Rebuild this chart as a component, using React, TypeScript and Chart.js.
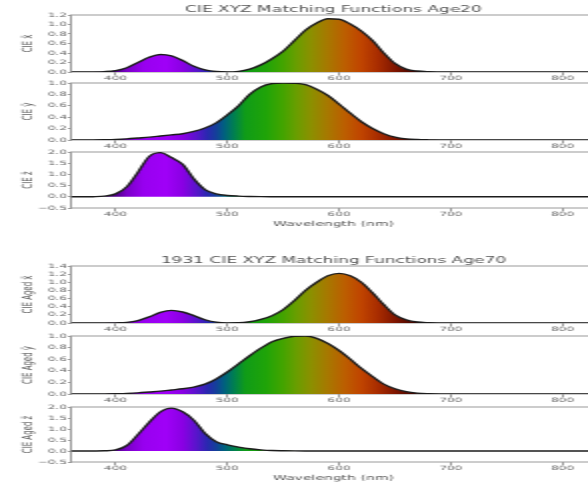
import React, { useEffect, useRef } from 'react';
import { Chart, registerables } from 'chart.js';

Chart.register(...registerables);
Chart.defaults.font.family = "'DejaVu Sans', sans-serif";

// ---------- data ----------
const wavelengths = [360, 370, 380, 390, 400, 410, 420, 430, 440, 450, 460, 470, 480, 490, 500, 510, 520, 530, 540, 550, 560, 570, 580, 590, 600, 610, 620, 630, 640, 650, 660, 670, 680, 690, 700, 750, 800, 830];

const xBarAge20 = [0, 0, 0.002, 0.008, 0.03, 0.09, 0.2, 0.31, 0.37, 0.34, 0.24, 0.12, 0.045, 0.01, 0.0, 0.012, 0.06, 0.15, 0.28, 0.44, 0.66, 0.88, 1.03, 1.12, 1.11, 1.01, 0.86, 0.66, 0.4, 0.18, 0.06, 0.02, 0.006, 0.002, 0, 0, 0, 0];
const yBarAge20 = [0, 0, 0.002, 0.005, 0.01, 0.02, 0.035, 0.05, 0.07, 0.09, 0.11, 0.15, 0.21, 0.3, 0.44, 0.6, 0.8, 0.93, 0.99, 1.0, 0.995, 0.97, 0.89, 0.78, 0.63, 0.47, 0.32, 0.2, 0.11, 0.05, 0.02, 0.008, 0.003, 0.001, 0, 0, 0, 0];
const zBarAge20 = [0, 0, 0.005, 0.03, 0.13, 0.45, 1.1, 1.8, 1.97, 1.75, 1.45, 0.8, 0.32, 0.13, 0.06, 0.03, 0.015, 0.006, 0.002, 0, 0, 0, 0, 0, 0, 0, 0, 0, 0, 0, 0, 0, 0, 0, 0, 0, 0, 0];

const xBarAge70 = [0, 0, 0, 0.001, 0.004, 0.015, 0.06, 0.15, 0.26, 0.31, 0.27, 0.18, 0.08, 0.02, 0.003, 0.005, 0.03, 0.09, 0.18, 0.33, 0.55, 0.8, 1.0, 1.16, 1.22, 1.16, 1.0, 0.74, 0.45, 0.2, 0.08, 0.025, 0.008, 0.002, 0, 0, 0, 0];
const yBarAge70 = [0, 0, 0, 0.002, 0.005, 0.01, 0.02, 0.035, 0.05, 0.07, 0.09, 0.12, 0.17, 0.26, 0.38, 0.52, 0.66, 0.79, 0.9, 0.96, 0.995, 1.0, 0.96, 0.87, 0.75, 0.6, 0.44, 0.3, 0.17, 0.09, 0.04, 0.015, 0.005, 0.001, 0, 0, 0, 0];
const zBarAge70 = [0, 0, 0.002, 0.01, 0.05, 0.25, 0.75, 1.3, 1.78, 1.95, 1.78, 1.4, 0.8, 0.42, 0.28, 0.18, 0.1, 0.05, 0.02, 0.01, 0.004, 0.001, 0, 0, 0, 0, 0, 0, 0, 0, 0, 0, 0, 0, 0, 0, 0, 0];

const xTicks = [400, 500, 600, 700, 800];
const yTicksX20 = [0, 0.2, 0.4, 0.6, 0.8, 1.0, 1.2];
const yTicksY = [0, 0.2, 0.4, 0.6, 0.8, 1.0];
const yTicksZ = [-0.5, 0, 0.5, 1.0, 1.5, 2.0];
const yTicksX70 = [0, 0.2, 0.4, 0.6, 0.8, 1.0, 1.2, 1.4];

const titleAge20 = 'CIE XYZ Matching Functions Age20';
const titleAge70 = '1931 CIE XYZ Matching Functions Age70';
const xAxisTitle = 'Wavelength (nm)';

// ---------- styles ----------
const XMIN = 360;
const XMAX = 830;

const spectrumStops: [number, string][] = [
  [360, '#000000'],
  [380, '#120020'],
  [395, '#3a0066'],
  [410, '#7a00c8'],
  [425, '#9800f0'],
  [445, '#a000f8'],
  [460, '#8a00e4'],
  [472, '#5a14cc'],
  [482, '#2a28b0'],
  [490, '#14409a'],
  [497, '#006080'],
  [506, '#008050'],
  [516, '#109c18'],
  [535, '#20a408'],
  [550, '#44a400'],
  [562, '#6a9e00'],
  [575, '#8c9000'],
  [590, '#a87800'],
  [605, '#bc5e00'],
  [620, '#c04400'],
  [635, '#a82c00'],
  [650, '#801600'],
  [665, '#4c0800'],
  [680, '#1e0000'],
  [700, '#080000'],
  [830, '#000000'],
];

const AREA_LEFT = 35.5; // in unscaled canvas units (page = x2)
const Y_TITLE_PAD = 10;
const CANVAS_W = 298;
const TOP_SPACE = 13;

type PanelCfg = {
  values: number[];
  yTicks: number[];
  yTitle: string;
  title?: string;
  xTitle?: string;
  areaTop: number;
  areaBottom: number;
};

const panels: PanelCfg[] = [
  { values: xBarAge20, yTicks: yTicksX20, yTitle: 'CIE x\u0304', title: titleAge20, areaTop: 15, areaBottom: 72 },
  { values: yBarAge20, yTicks: yTicksY, yTitle: 'CIE y\u0304', areaTop: 83, areaBottom: 140 },
  { values: zBarAge20, yTicks: yTicksZ, yTitle: 'CIE z\u0304', xTitle: xAxisTitle, areaTop: 152, areaBottom: 208 },
  { values: xBarAge70, yTicks: yTicksX70, yTitle: 'CIE Aged x\u0304', title: titleAge70, areaTop: 266, areaBottom: 323 },
  { values: yBarAge70, yTicks: yTicksY, yTitle: 'CIE Aged y\u0304', areaTop: 336, areaBottom: 394 },
  { values: zBarAge70, yTicks: yTicksZ, yTitle: 'CIE Aged z\u0304', xTitle: xAxisTitle, areaTop: 407, areaBottom: 462 },
];

const framePlugin = {
  id: 'frame',
  beforeDatasetsDraw(chart: any) {
    const { ctx, chartArea: a } = chart;
    ctx.save();
    ctx.strokeStyle = '#9a9a9a';
    ctx.lineWidth = 1;
    ctx.strokeRect(a.left, a.top, a.right - a.left, a.bottom - a.top);
    ctx.restore();
  },
};

const spectralFill = (c: any) => {
  const chart = c.chart;
  const xs = chart.scales && chart.scales.x;
  if (!chart.chartArea || !xs) return 'rgba(0,0,0,0)';
  const x0 = xs.getPixelForValue(XMIN);
  const x1 = xs.getPixelForValue(XMAX);
  if (!isFinite(x0) || !isFinite(x1)) return 'rgba(0,0,0,0)';
  const g = chart.ctx.createLinearGradient(x0, 0, x1, 0);
  spectrumStops.forEach(([w, col]) => g.addColorStop((w - XMIN) / (XMAX - XMIN), col));
  return g;
};

const fmtY = (v: number) => (v < 0 ? '\u2212' + Math.abs(v).toFixed(1) : v.toFixed(1));

function Panel({ cfg }: { cfg: PanelCfg }) {
  const ref = useRef<HTMLCanvasElement>(null);
  const xh = cfg.xTitle ? 20 : 10;
  const height = TOP_SPACE + (cfg.areaBottom - cfg.areaTop) + xh;

  useEffect(() => {
    if (!ref.current) return;
    const yMin = cfg.yTicks[0];
    const yMax = cfg.yTicks[cfg.yTicks.length - 1];
    const chart = new Chart(ref.current, {
      type: 'line',
      data: {
        datasets: [
          {
            data: wavelengths.map((w, i) => ({ x: w, y: cfg.values[i] })),
            borderColor: '#1c1c1c',
            borderWidth: 1.4,
            pointRadius: 0,
            fill: 'origin',
            backgroundColor: spectralFill,
            cubicInterpolationMode: 'monotone',
          } as any,
        ],
      },
      options: {
        responsive: false,
        animation: false,
        devicePixelRatio: 1,
        events: [],
        layout: { padding: { left: Y_TITLE_PAD, top: cfg.title ? 0 : TOP_SPACE, right: 0, bottom: 0 } },
        plugins: {
          legend: { display: false },
          tooltip: { enabled: false },
          title: cfg.title
            ? {
                display: true,
                text: cfg.title,
                font: { size: 8.5, weight: 'normal' },
                color: '#555555',
                padding: { top: TOP_SPACE - 10.2, bottom: 0 },
                fullSize: false,
              }
            : { display: false },
        },
        scales: {
          x: {
            type: 'linear',
            min: XMIN,
            max: XMAX,
            afterBuildTicks: (s: any) => {
              s.ticks = xTicks.map((v) => ({ value: v }));
            },
            afterFit: (s: any) => {
              s.height = xh;
            },
            ticks: { font: { size: 6 }, color: '#666666', padding: -0.5, maxRotation: 0, autoSkip: false, callback: (v: any) => String(v) },
            grid: { drawOnChartArea: false, drawTicks: true, tickLength: 3, color: '#9a9a9a' },
            border: { display: false },
            title: cfg.xTitle
              ? { display: true, text: cfg.xTitle, font: { size: 7 }, color: '#555555', padding: 0 }
              : { display: false },
          },
          y: {
            type: 'linear',
            min: yMin,
            max: yMax,
            afterBuildTicks: (s: any) => {
              s.ticks = cfg.yTicks.map((v) => ({ value: v }));
            },
            afterFit: (s: any) => {
              s.width = AREA_LEFT - Y_TITLE_PAD;
            },
            ticks: { font: { size: 6 }, color: '#666666', padding: 0.5, autoSkip: false, callback: (v: any) => fmtY(Number(v)) },
            grid: { drawOnChartArea: false, drawTicks: true, tickLength: 1.5, color: '#9a9a9a' },
            border: { display: false },
            title: { display: true, text: cfg.yTitle, font: { size: 7 }, color: '#555555', padding: 0 },
          },
        },
      } as any,
      plugins: [framePlugin],
    });
    return () => chart.destroy();
  }, []);

  return (
    <canvas
      ref={ref}
      width={CANVAS_W}
      height={height}
      style={{ position: 'absolute', left: 0, top: cfg.areaTop - TOP_SPACE, width: CANVAS_W, height }}
    />
  );
}

export default function App() {
  return (
    <div style={{ position: 'fixed', left: 0, top: 0, width: 588, height: 482, overflow: 'hidden', background: '#ffffff' }}>
      <div style={{ position: 'absolute', left: 0, top: 0, width: CANVAS_W, height: 482, transform: 'scaleX(2)', transformOrigin: '0 0' }}>
        {panels.map((p, i) => (
          <Panel key={i} cfg={p} />
        ))}
      </div>
    </div>
  );
}
